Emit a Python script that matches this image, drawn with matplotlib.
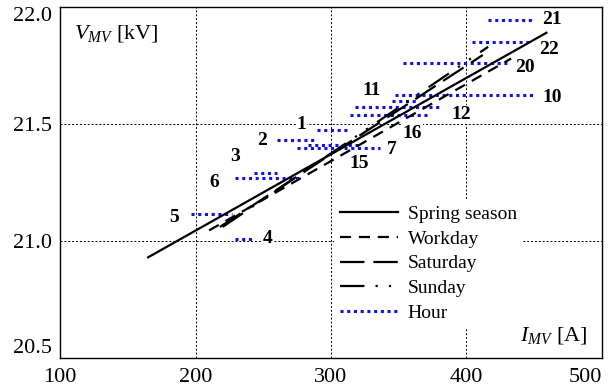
import matplotlib
matplotlib.use("Agg")
import matplotlib.pyplot as plt

plt.rcParams['font.family'] = ['Liberation Serif', 'DejaVu Serif']
plt.rcParams['mathtext.fontset'] = 'custom'
plt.rcParams['mathtext.rm'] = 'Liberation Serif'
plt.rcParams['mathtext.it'] = 'Liberation Serif:italic'

# regression lines: (I start, I end), (V start, V end)
spring_i = [165, 459]
spring_v = [20.93, 21.89]
workday_i = [210, 433]
workday_v = [21.045, 21.78]
saturday_i = [218, 412]
saturday_v = [21.06, 21.795]
sunday_i = [220, 416]
sunday_v = [21.06, 21.83]

# hourly ranges: hour, voltage, I min, I max, label position (I, V)
hours = ['21', '22', '20', '10', '11', '12', '16', '1', '2', '15', '7', '3', '6', '5', '4']
hour_v = [21.944, 21.85, 21.76, 21.622, 21.60, 21.574, 21.538, 21.474, 21.43, 21.41, 21.397, 21.29, 21.268, 21.115, 21.009]
hour_imin = [416, 404, 353, 347, 345, 318, 314, 290, 260, 283, 275, 243, 229, 197, 229]
hour_imax = [448, 446, 430, 450, 363, 381, 373, 313, 290, 320, 336, 260, 278, 227, 243]
label_i = [463, 461, 443, 463, 330, 396, 360, 278, 249, 321, 345, 229, 214, 184, 253]
label_v = [21.945, 21.82, 21.74, 21.615, 21.645, 21.54, 21.46, 21.50, 21.43, 21.33, 21.39, 21.36, 21.25, 21.10, 21.01]

x_ticks = [100, 200, 300, 400, 500]
y_ticks = [20.5, 21.0, 21.5, 22.0]

fig = plt.figure(figsize=(6.13, 3.92), dpi=100)
ax = fig.add_axes([0.098, 0.087, 0.884, 0.895])

ax.set_xlim(100, 500)
ax.set_ylim(20.5, 22.0)
ax.set_xticks(x_ticks)
ax.set_yticks(y_ticks)
ax.set_yticklabels(['%.1f' % v for v in y_ticks])
ax.tick_params(labelsize=16, direction='in', length=0)
ax.tick_params(axis='x', pad=7)
ax.tick_params(axis='y', pad=6)
ylabs = ax.get_yticklabels()
ylabs[0].set_va('bottom')
ylabs[-1].set_va('top')
ax.get_xticklabels()[-1].set_ha('right')
ax.grid(True, color='black', linestyle=(0, (2, 2)), linewidth=0.7)
for s in ax.spines.values():
    s.set_linewidth(1.0)

for i in range(len(hours)):
    ax.plot([hour_imin[i], hour_imax[i]], [hour_v[i], hour_v[i]], color='#1010ee',
            linestyle=(0, (1, 1.2)), linewidth=2.2, zorder=2)
    ax.text(label_i[i], label_v[i], hours[i], fontsize=14, fontweight='bold',
            ha='center', va='center', zorder=4,
            bbox=dict(facecolor='white', edgecolor='none', pad=0.5))

ax.plot(spring_i, spring_v, color='black', linewidth=1.6, linestyle='-', zorder=3, label='Spring season')
ax.plot(workday_i, workday_v, color='black', linewidth=1.6, linestyle=(0, (5, 3.5)), zorder=3, label='Workday')
ax.plot(saturday_i, saturday_v, color='black', linewidth=1.6, linestyle=(0, (11, 4)), zorder=3, label='Saturday')
ax.plot(sunday_i, sunday_v, color='black', linewidth=1.6, linestyle=(0, (11, 5, 1, 5, 1, 5)), zorder=3, label='Sunday')
ax.plot([], [], color='#1010ee', linestyle=(0, (1, 1.2)), linewidth=2.2, label='Hour')

leg = ax.legend(loc='upper left', bbox_to_anchor=(0.505, 0.452), fontsize=14, frameon=True,
                facecolor='white', edgecolor='none', framealpha=1, fancybox=False,
                handlelength=3.0, handletextpad=0.5, labelspacing=0.37, borderpad=0.3,
                borderaxespad=0)
leg.set_zorder(5)

ax.text(0.025, 0.955, r'$V_{MV}$ [kV]', transform=ax.transAxes, fontsize=16,
        ha='left', va='top', zorder=5, bbox=dict(facecolor='white', edgecolor='none', pad=1))
ax.text(0.972, 0.035, r'$I_{MV}$ [A]', transform=ax.transAxes, fontsize=16,
        ha='right', va='bottom', zorder=5, bbox=dict(facecolor='white', edgecolor='none', pad=1))

fig.savefig('out.png', dpi=100)
